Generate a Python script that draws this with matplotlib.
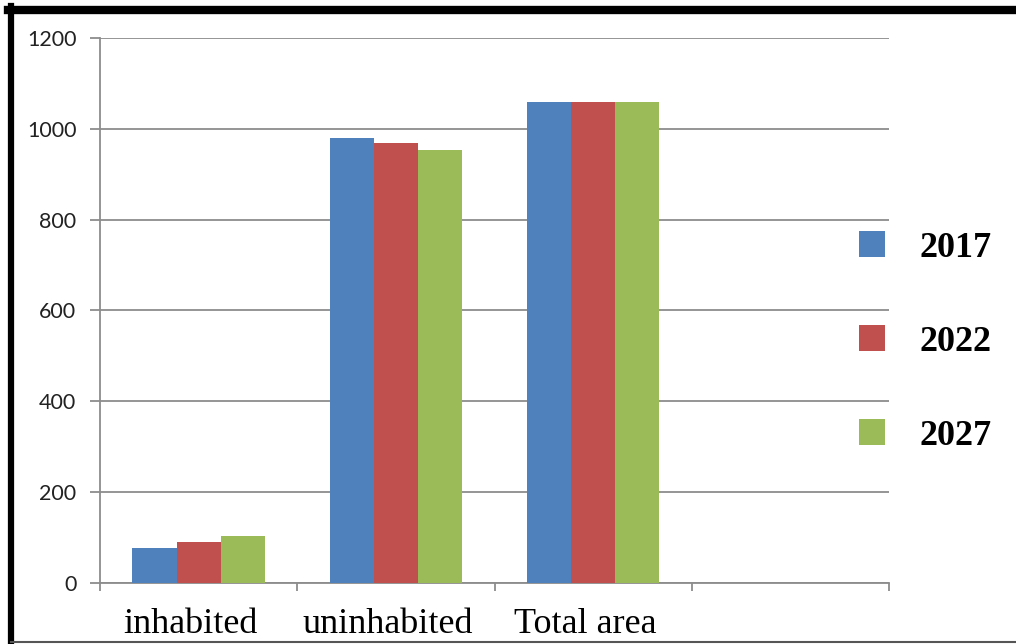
import matplotlib.pyplot as plt
import matplotlib.lines as mlines
import matplotlib.transforms as mtransforms
import numpy as np

# area by category for each year
categories = ['inhabited', 'uninhabited', 'Total area', '']
years = ['2017', '2022', '2027']
area_2017 = [77, 980, 1058, 0]
area_2022 = [90, 968, 1058, 0]
area_2027 = [103, 954, 1058, 0]
colors = ['#4F81BD', '#C0504D', '#9BBB59']

W, H = 1016, 644
fig = plt.figure(figsize=(W / 100, H / 100), dpi=100)
ax = fig.add_axes([100 / W, 1 - 583 / H, 789 / W, 545 / H])

x = np.arange(len(categories)) + 0.5
bw = 0.2235
for i, (vals, c, lab) in enumerate(zip([area_2017, area_2022, area_2027], colors, years)):
    ax.bar(x + (i - 1) * bw, vals, width=bw, color=c, label=lab, zorder=3)

ax.set_xlim(0, len(categories))
ax.set_ylim(0, 1200)
ax.set_yticks(np.arange(0, 1201, 200))
ax.grid(axis='y', color='#8c8c8c', linewidth=1.3, zorder=0)

grey = '#8c8c8c'
for s in ['top', 'right']:
    ax.spines[s].set_visible(False)
ax.spines['left'].set_color(grey)
ax.spines['bottom'].set_color(grey)
ax.spines['left'].set_linewidth(1.3)
ax.spines['bottom'].set_linewidth(1.3)

ax.tick_params(axis='y', direction='out', length=7, width=1.3, color=grey,
               pad=10, labelsize=15.5, labelcolor='#222222')
for t in ax.get_yticklabels():
    t.set_family('Lato')

# category boundaries as major ticks, names as minor ticks
ax.set_xticks(np.arange(len(categories) + 1))
ax.set_xticklabels([])
ax.set_xticks(x[:3], minor=True)
ax.set_xticklabels(categories[:3], minor=True, family='Liberation Serif', fontsize=26)
ax.tick_params(axis='x', which='major', direction='out', length=6, width=1.3, color=grey)
ax.tick_params(axis='x', which='minor', length=0, pad=18)
shift = mtransforms.ScaledTranslation(-8 / 100, 0, fig.dpi_scale_trans)
for t in ax.get_xticklabels(minor=True):
    t.set_transform(t.get_transform() + shift)

leg = ax.legend(loc='center left', bbox_to_anchor=(859 / W, 1 - 342 / H),
                bbox_transform=fig.transFigure, frameon=False,
                prop={'family': 'Liberation Serif', 'weight': 'bold', 'size': 26},
                handlelength=0.72, handleheight=0.72, handletextpad=0.95,
                labelspacing=1.68, borderpad=0, borderaxespad=0)

# frame around the picture
fig.add_artist(mlines.Line2D([8 / W, 1], [1 - 10 / H] * 2, color='black',
                             linewidth=6, transform=fig.transFigure))
fig.add_artist(mlines.Line2D([11 / W] * 2, [0, 1 - 6 / H], color='black',
                             linewidth=4.5, transform=fig.transFigure))
fig.add_artist(mlines.Line2D([11 / W, 1], [1 - 642 / H] * 2, color='#555555',
                             linewidth=1.5, transform=fig.transFigure))

plt.savefig('out.png', dpi=100)
